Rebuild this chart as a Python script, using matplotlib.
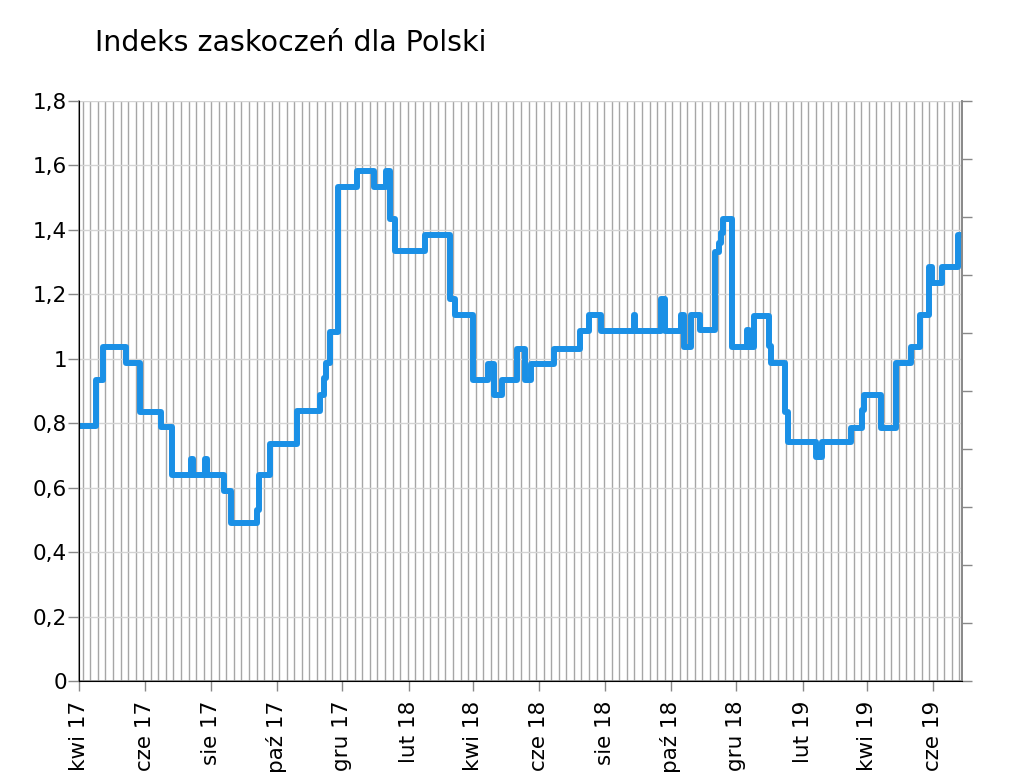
import numpy as np
import pandas as pd
import matplotlib
matplotlib.use("Agg")
import matplotlib.pyplot as plt
import matplotlib.dates as mdates

# change points of the surprise index (value holds until the next date)
change_dates = [
    "2017-04-01", "2017-04-17", "2017-04-23", "2017-05-15", "2017-05-28",
    "2017-06-16", "2017-06-26", "2017-07-14", "2017-07-16", "2017-07-27",
    "2017-07-29", "2017-08-13", "2017-08-20", "2017-09-13", "2017-09-15",
    "2017-09-25", "2017-10-20", "2017-11-10", "2017-11-14", "2017-11-16",
    "2017-11-20", "2017-11-27", "2017-12-15", "2017-12-30", "2018-01-10",
    "2018-01-14", "2018-01-19", "2018-02-16", "2018-03-11", "2018-03-15",
    "2018-04-01", "2018-04-15", "2018-04-20", "2018-04-28", "2018-05-12",
    "2018-05-19", "2018-05-25", "2018-06-15", "2018-07-09", "2018-07-17",
    "2018-07-29", "2018-08-28", "2018-08-29", "2018-09-22", "2018-09-26",
    "2018-10-11", "2018-10-13", "2018-10-20", "2018-10-28", "2018-11-11",
    "2018-11-15", "2018-11-17", "2018-11-19", "2018-11-27", "2018-12-11",
    "2018-12-13", "2018-12-17", "2018-12-31", "2019-01-02", "2019-01-15",
    "2019-01-18", "2019-02-13", "2019-02-18", "2019-03-17", "2019-03-27",
    "2019-03-29", "2019-04-14", "2019-04-28", "2019-05-12", "2019-05-20",
    "2019-05-28", "2019-05-31", "2019-06-09", "2019-06-24", "2019-06-27",
]
index_values = [
    0.79, 0.935, 1.035, 0.985, 0.835,
    0.787, 0.638, 0.687, 0.638, 0.687,
    0.638, 0.59, 0.49, 0.53, 0.638,
    0.736, 0.836, 0.886, 0.94, 0.985,
    1.084, 1.533, 1.582, 1.533, 1.582,
    1.432, 1.334, 1.382, 1.186, 1.134,
    0.935, 0.983, 0.887, 0.935, 1.031,
    0.935, 0.983, 1.031, 1.085, 1.134,
    1.085, 1.134, 1.085, 1.186, 1.085,
    1.134, 1.036, 1.134, 1.088, 1.331,
    1.36, 1.389, 1.432, 1.036, 1.088,
    1.036, 1.131, 1.04, 0.987, 0.835,
    0.74, 0.695, 0.74, 0.786, 0.84,
    0.886, 0.786, 0.985, 1.036, 1.134,
    1.284, 1.234, 1.284, 1.382, 1.382,
]

tick_dates = [
    "2017-04-01", "2017-06-01", "2017-08-01", "2017-10-01", "2017-12-01",
    "2018-02-01", "2018-04-01", "2018-06-01", "2018-08-01", "2018-10-01",
    "2018-12-01", "2019-02-01", "2019-04-01", "2019-06-01",
]
tick_labels = [
    "kwi 17", "cze 17", "sie 17", "paź 17", "gru 17",
    "lut 18", "kwi 18", "cze 18", "sie 18", "paź 18",
    "gru 18", "lut 19", "kwi 19", "cze 19",
]
y_ticks = [0, 0.2, 0.4, 0.6, 0.8, 1.0, 1.2, 1.4, 1.6, 1.8]

dates = pd.to_datetime(change_dates)
x_min = mdates.date2num(pd.Timestamp("2017-04-01"))
x_max = mdates.date2num(pd.Timestamp("2019-06-28"))

fig = plt.figure(figsize=(10.24, 7.84), dpi=100)
ax = fig.add_axes([0.0771, 0.1314, 0.8624, 0.7402])

# weekly vertical gridlines
for xv in np.arange(x_min + 3.5, x_max, 7):
    ax.axvline(xv, color="#a6a6a6", lw=1.0, zorder=1)
for yv in y_ticks:
    ax.axhline(yv, color="#d4d4d4", lw=1.0, zorder=1)

ax.plot(dates, index_values, drawstyle="steps-post", color="#1A90E6",
        lw=4.3, solid_joinstyle="round", solid_capstyle="round", zorder=3)

ax.set_xlim(x_min, x_max)
ax.set_ylim(0, 1.8)
ax.set_xticks(mdates.date2num(pd.to_datetime(tick_dates)))
ax.set_xticklabels(tick_labels, rotation=90, fontsize=15.5)
ax.set_yticks(y_ticks)
ax.set_yticklabels([f"{v:g}".replace(".", ",") for v in y_ticks], fontsize=15.5)
ax.tick_params(axis="x", length=7, width=1, color="#888888", pad=7)
ax.tick_params(axis="y", length=8, width=1, color="#888888", pad=0.5)

ax.spines["top"].set_visible(False)
for side in ["left", "bottom", "right"]:
    ax.spines[side].set_color("#888888")
    ax.spines[side].set_linewidth(1.2)

# secondary axis: ticks only, no labels
ax2 = ax.twinx()
ax2.set_ylim(0, 1.8)
ax2.set_yticks(np.linspace(0, 1.8, 11))
ax2.set_yticklabels([])
ax2.tick_params(axis="y", length=7, width=1, color="#888888")
ax2.spines["top"].set_visible(False)
ax2.spines["right"].set_color("#888888")
ax2.spines["right"].set_linewidth(1.2)

fig.text(0.093, 0.935, "Indeks zaskoczeń dla Polski", fontsize=20.5,
         ha="left", va="baseline")

fig.savefig("out.png", dpi=100)
